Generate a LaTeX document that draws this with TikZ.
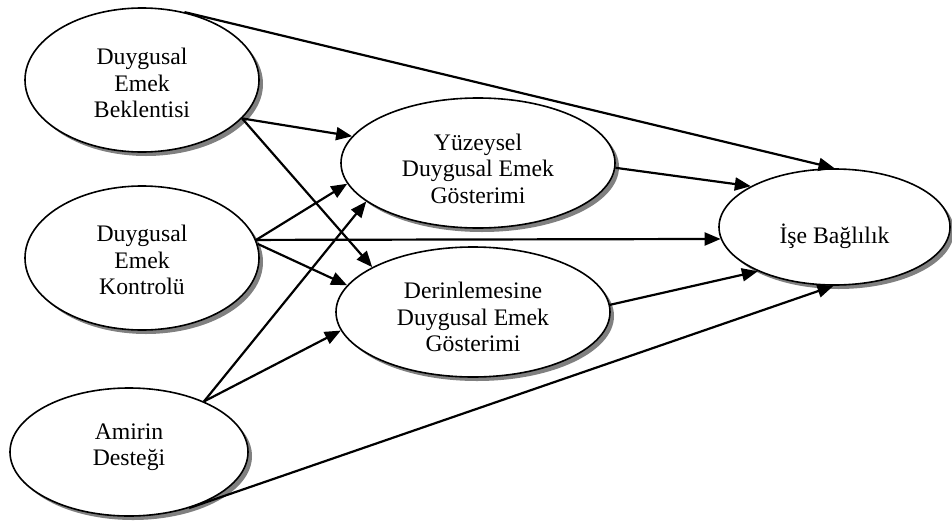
\documentclass[tikz,border=0pt]{standalone}
\usepackage{fontspec}
\setmainfont{Liberation Serif}
\usetikzlibrary{shapes.geometric,arrows.meta,shadows}
\begin{document}
\begin{tikzpicture}[x=1pt,y=-1pt,
  oval/.style={ellipse,draw,line width=1.6pt,fill=white,inner sep=0pt,
    drop shadow={shadow xshift=4pt,shadow yshift=-4pt,fill=black!50,opacity=1}},
  txt/.style={align=center,inner sep=0pt,font=\fontsize{23.7}{26.5}\selectfont},
  conn/.style={line width=2.2pt,-{Triangle[length=16pt,width=13pt]}}]
\useasboundingbox (0,0) rectangle (952,522);
\node[oval,minimum width=234pt,minimum height=144pt] (A) at (142,80) {};
\node[oval,minimum width=234pt,minimum height=144pt] (B) at (142,258) {};
\node[oval,minimum width=238pt,minimum height=128pt] (C) at (129,452) {};
\node[oval,minimum width=274pt,minimum height=130pt] (Y) at (478,163) {};
\node[oval,minimum width=274pt,minimum height=130pt] (D) at (473,312) {};
\node[oval,minimum width=231pt,minimum height=116pt] (I) at (834.5,227) {};
\node[txt] (tA) at ([yshift=-3pt]A.center) {Duygusal\\Emek\\Beklentisi};
\node[txt] (tB) at ([yshift=-2pt]B.center) {Duygusal\\Emek\\Kontrolü};
\node[txt] (tC) at ([yshift=5pt]C.center) {Amirin\\Desteği};
\node[txt] (tY) at ([yshift=-5.5pt]Y.center) {Yüzeysel\\Duygusal Emek\\Gösterimi};
\node[txt] (tD) at ([yshift=-5pt]D.center) {Derinlemesine\\Duygusal Emek\\Gösterimi};
\node[txt] (tI) at ([yshift=-9pt]I.center) {İşe Bağlılık};
\draw[conn] (A.58) -- (I.90);
\draw[conn] (A.-21) -- (Y.168);
\draw[conn] (A.-21) -- (D.156);
\draw[conn] (B.9) -- (Y.189);
\draw[conn] (B.9) -- (I.186.4);
\draw[conn] (B.7) -- (D.168);
\draw[conn] (C.34) -- (Y.199);
\draw[conn] (C.34) -- (D.188);
\draw[conn] (C.-43) -- (I.269);
\draw[conn] (Y.-2) -- (I.154);
\draw[conn] (D.3) -- (I.210);
\end{tikzpicture}
\end{document}
